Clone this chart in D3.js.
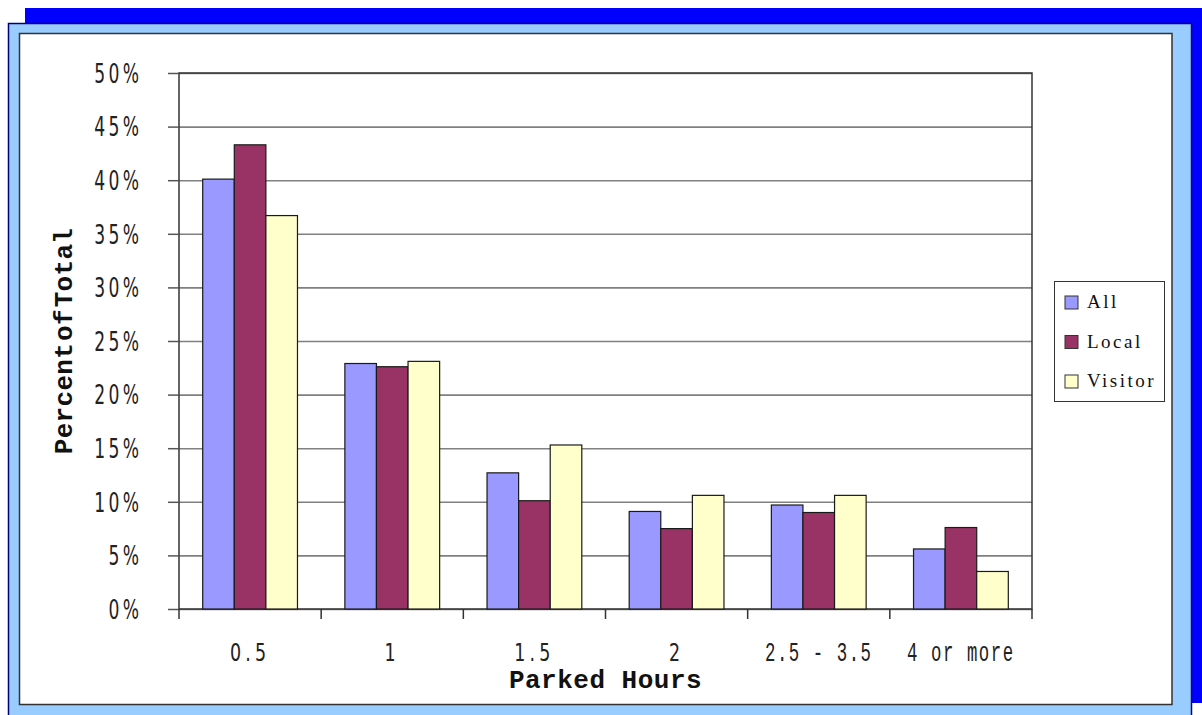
<!DOCTYPE html>
<html>
<head>
<meta charset="utf-8">
<script src="https://cdn.jsdelivr.net/npm/d3@7"></script>
<style>
  body { margin: 0; background: #fff; }
  svg { display: block; }
</style>
</head>
<body>
<div id="container"></div>
<script>
// data (percent of total)
const categories = ["0.5", "1", "1.5", "2", "2.5 - 3.5", "4 or more"];
const series = ["All", "Local", "Visitor"];
const allValues = [40.1, 22.9, 12.7, 9.1, 9.7, 5.6];
const localValues = [43.3, 22.6, 10.1, 7.5, 9.0, 7.6];
const visitorValues = [36.7, 23.1, 15.3, 10.6, 10.6, 3.5];
const yTicks = [0, 5, 10, 15, 20, 25, 30, 35, 40, 45, 50];

const width = 1202, height = 715;
const plot = { left: 179, right: 1032, top: 73, bottom: 609 };
const colors = d3.scaleOrdinal(series, ["#9999ff", "#993366", "#ffffcc"]);

const rows = categories.map((c, i) => ({
    cat: c,
    values: [allValues[i], localValues[i], visitorValues[i]]
}));

const svg = d3.select("#container").append("svg")
    .attr("width", width).attr("height", height);

// frame: blue shadow, light blue border, white panel
svg.append("rect").attr("x", 25).attr("y", 8).attr("width", 1177).attr("height", 695)
    .attr("fill", "#0000ff");
svg.append("rect").attr("x", 8.5).attr("y", 23.5).attr("width", 1183).attr("height", 720)
    .attr("fill", "#99ccff").attr("stroke", "#000080").attr("stroke-width", 1.5);
svg.append("rect").attr("x", 19.5).attr("y", 33.5).attr("width", 1152.5).attr("height", 671)
    .attr("fill", "#fff").attr("stroke", "#333").attr("stroke-width", 1.5);

// scales
const x = d3.scaleBand().domain(categories).range([plot.left, plot.right]);
const xInner = d3.scaleBand().domain(series).range([0, x.bandwidth()])
    .paddingInner(0).paddingOuter(0.75);
const y = d3.scaleLinear().domain([0, 50]).range([plot.bottom, plot.top]);

// gridlines
svg.append("g")
    .attr("transform", `translate(${plot.left},0)`)
    .call(d3.axisLeft(y).tickValues(yTicks).tickSize(-(plot.right - plot.left)).tickFormat(""))
    .call(g => g.select(".domain").remove())
    .call(g => g.selectAll("line").attr("stroke", "#808080").attr("stroke-width", 1.6));

// plot area border
svg.append("rect")
    .attr("x", plot.left).attr("y", plot.top)
    .attr("width", plot.right - plot.left).attr("height", plot.bottom - plot.top)
    .attr("fill", "none").attr("stroke", "#333").attr("stroke-width", 1.5);

// y axis ticks + labels (narrow, spaced glyphs)
const ySx = 0.66, ySpace = 5;
svg.append("g")
    .attr("transform", `translate(${plot.left},0)`)
    .call(d3.axisLeft(y).tickValues(yTicks).tickSize(11).tickFormat(d => d + "%"))
    .call(g => g.select(".domain").remove())
    .call(g => g.selectAll("line").attr("stroke", "#555").attr("stroke-width", 1.5))
    .call(g => g.selectAll("text")
        .attr("x", -40 / ySx + ySpace)
        .attr("dy", "0.36em")
        .attr("transform", `scale(${ySx},1)`)
        .attr("fill", "#222")
        .style("font-family", "'DejaVu Sans', sans-serif")
        .style("font-size", "26px")
        .style("letter-spacing", ySpace + "px"));

// category boundary ticks on x axis
const bounds = categories.map(c => x(c)).concat([x.range()[1]]);
svg.append("g").selectAll("line").data(bounds).join("line")
    .attr("x1", d => d).attr("x2", d => d)
    .attr("y1", plot.bottom).attr("y2", plot.bottom + 10)
    .attr("stroke", "#333").attr("stroke-width", 1.5);

// bars
const groups = svg.append("g").selectAll("g").data(rows).join("g")
    .attr("transform", d => `translate(${x(d.cat)},0)`);
groups.selectAll("rect")
    .data(d => d.values.map((v, i) => ({ key: series[i], value: v })))
    .join("rect")
    .attr("x", d => xInner(d.key))
    .attr("width", xInner.bandwidth())
    .attr("y", d => y(d.value))
    .attr("height", d => y(0) - y(d.value))
    .attr("fill", d => colors(d.key))
    .attr("stroke", "#1a1a1a")
    .attr("stroke-width", 1.2);

// x tick labels
const isWordy = d => /[a-z-]/.test(d);
const xLabels = svg.append("g").selectAll("g").data(categories).join("g")
    .attr("transform", d => `translate(${x(d) + x.bandwidth() / 2},661) scale(${isWordy(d) ? 0.62 : 0.7},1)`);
xLabels.append("text")
    .attr("text-anchor", "middle")
    .attr("fill", "#222")
    .style("font-family", d => isWordy(d) ? "'Liberation Mono', monospace" : "'DejaVu Sans', sans-serif")
    .style("font-size", d => isWordy(d) ? "28px" : "25px")
    .style("letter-spacing", d => isWordy(d) ? "2.5px" : "6px")
    .text(d => d);

// axis titles
svg.append("text")
    .attr("x", (plot.left + plot.right) / 2)
    .attr("y", 688)
    .attr("text-anchor", "middle")
    .style("font-family", "'Liberation Mono', monospace")
    .style("font-weight", "bold")
    .style("font-size", "26px")
    .style("letter-spacing", "0.5px")
    .attr("fill", "#111")
    .text("Parked Hours");

svg.append("text")
    .attr("transform", "translate(72,341) rotate(-90)")
    .attr("text-anchor", "middle")
    .style("font-family", "'Liberation Mono', monospace")
    .style("font-weight", "bold")
    .style("font-size", "26px")
    .style("letter-spacing", "0.3px")
    .style("word-spacing", "-14px")
    .attr("fill", "#111")
    .text("Percent of Total");

// legend
const legend = svg.append("g").attr("transform", "translate(1054,281)");
legend.append("rect")
    .attr("x", 0.5).attr("y", 0.5).attr("width", 110).attr("height", 120)
    .attr("fill", "#fff").attr("stroke", "#333").attr("stroke-width", 1);
const items = legend.selectAll("g.item").data(series).join("g")
    .attr("class", "item")
    .attr("transform", (d, i) => `translate(11,${15 + i * 39.5})`);
items.append("rect")
    .attr("width", 13).attr("height", 13)
    .attr("fill", d => colors(d))
    .attr("stroke", "#333").attr("stroke-width", 1);
items.append("text")
    .attr("x", 22).attr("y", 12)
    .attr("fill", "#111")
    .style("font-family", "'Liberation Serif', serif")
    .style("font-size", "19px")
    .style("letter-spacing", "2.5px")
    .text(d => d);
</script>
</body>
</html>
